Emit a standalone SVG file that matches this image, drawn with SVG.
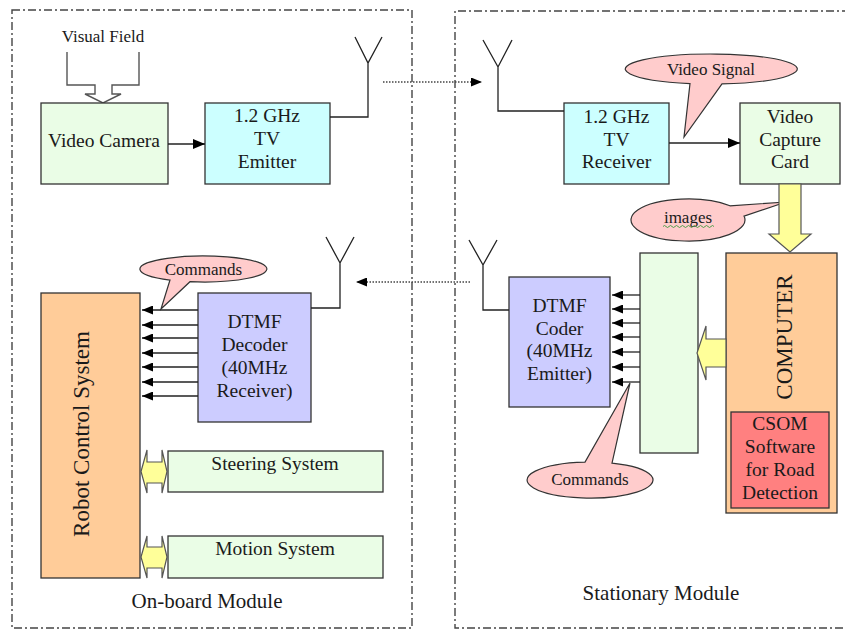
<svg xmlns="http://www.w3.org/2000/svg" width="845" height="630" viewBox="0 0 845 630">
  <style>
    text { font-family: "Liberation Serif", "Times New Roman", serif; fill: #1a1a1a; }
    .lbl { font-size: 19.5px; text-anchor: middle; }
    .small { font-size: 17px; text-anchor: middle; }
    .mod { font-size: 21px; text-anchor: middle; }
    .box { stroke: #333; stroke-width: 1.3; }
    .green { fill: #eafde6; }
    .cyan { fill: #ccffff; }
    .violet { fill: #ccccff; }
    .orange { fill: #ffcc99; }
    .red { fill: #ff8080; }
    .callout { fill: #ffcccc; stroke: #333; stroke-width: 1.2; }
    .yellow { fill: #ffff99; stroke: #555; stroke-width: 1.2; }
    .wire { fill: none; stroke: #222; stroke-width: 1.3; }
    .dotted { fill: none; stroke: #444; stroke-width: 1.3; stroke-dasharray: 1.5 1.5; }
    .frame { fill: none; stroke: #444; stroke-width: 1.4; stroke-dasharray: 8 3 2 3; }
  </style>
  <defs>
    <marker id="head" markerUnits="userSpaceOnUse" markerWidth="11" markerHeight="9" refX="11" refY="4.5" orient="auto">
      <path d="M0,0 L11,4.5 L0,9 z" fill="#000"/>
    </marker>
    <marker id="headBig" markerUnits="userSpaceOnUse" markerWidth="12" markerHeight="10" refX="12" refY="5" orient="auto">
      <path d="M0,0 L12,5 L0,10 z" fill="#000"/>
    </marker>
  </defs>

  <rect width="845" height="630" fill="#fff"/>

  <!-- module frames -->
  <g id="onboard-module">
    <rect class="frame" x="12" y="10" width="400" height="618"/>
    <text class="mod" x="207" y="608">On-board Module</text>
  </g>
  <g id="stationary-module">
    <path class="frame" d="M850,11 L455,11 L455,628 L850,628"/>
    <text class="mod" x="661" y="600">Stationary Module</text>
  </g>

  <!-- on-board nodes -->
  <g id="visual-field">
    <text class="small" x="103" y="42">Visual Field</text>
    <path d="M67,52 L67,85 L95,85 L95,94 L85,94 L103,103 L121,94 L112,94 L112,85 L139,85 L139,52" fill="none" stroke="#555" stroke-width="1.4"/>
  </g>
  <g id="video-camera">
    <rect class="box green" x="41" y="103" width="127" height="81"/>
    <text class="lbl" x="104" y="147">Video Camera</text>
  </g>
  <g id="tv-emitter">
    <rect class="box cyan" x="205" y="103" width="125" height="81"/>
    <text class="lbl" x="267" y="122">1.2 GHz</text>
    <text class="lbl" x="267" y="145">TV</text>
    <text class="lbl" x="267" y="168">Emitter</text>
  </g>
  <g id="robot-control">
    <rect class="box orange" x="41" y="293" width="99" height="285"/>
    <text x="89" y="434" font-size="23" text-anchor="middle" transform="rotate(-90 89 434)">Robot Control System</text>
  </g>
  <g id="dtmf-decoder">
    <rect class="box violet" x="198" y="293" width="113" height="129"/>
    <text class="lbl" x="254.5" y="328">DTMF</text>
    <text class="lbl" x="254.5" y="351">Decoder</text>
    <text class="lbl" x="254.5" y="374">(40MHz</text>
    <text class="lbl" x="254.5" y="397">Receiver)</text>
  </g>
  <g id="steering-system">
    <rect class="box green" x="168" y="451" width="215" height="41"/>
    <text class="lbl" x="275" y="470">Steering System</text>
  </g>
  <g id="motion-system">
    <rect class="box green" x="168" y="536" width="215" height="42"/>
    <text class="lbl" x="275" y="555">Motion System</text>
  </g>

  <!-- stationary nodes -->
  <g id="tv-receiver">
    <rect class="box cyan" x="564" y="103" width="105" height="81"/>
    <text class="lbl" x="616.5" y="123">1.2 GHz</text>
    <text class="lbl" x="616.5" y="146">TV</text>
    <text class="lbl" x="616.5" y="168">Receiver</text>
  </g>
  <g id="capture-card">
    <rect class="box green" x="740" y="103" width="100" height="81"/>
    <text class="lbl" x="790" y="123">Video</text>
    <text class="lbl" x="790" y="146">Capture</text>
    <text class="lbl" x="790" y="168">Card</text>
  </g>
  <g id="computer">
    <rect class="box orange" x="726" y="253" width="111" height="260"/>
    <text x="792" y="337" font-size="23" text-anchor="middle" transform="rotate(-90 792 337)">COMPUTER</text>
  </g>
  <g id="csom">
    <rect class="box red" x="731" y="412" width="98" height="96"/>
    <text class="lbl" x="780" y="430">CSOM</text>
    <text class="lbl" x="780" y="453">Software</text>
    <text class="lbl" x="780" y="476">for Road</text>
    <text class="lbl" x="780" y="499">Detection</text>
  </g>
  <g id="interface-board">
    <rect class="box green" x="640" y="253" width="58" height="200"/>
  </g>
  <g id="dtmf-coder">
    <rect class="box violet" x="509" y="277" width="101" height="130"/>
    <text class="lbl" x="559.5" y="312">DTMF</text>
    <text class="lbl" x="559.5" y="334.5">Coder</text>
    <text class="lbl" x="559.5" y="357">(40MHz</text>
    <text class="lbl" x="559.5" y="380">Emitter)</text>
  </g>

  <!-- callouts -->
  <g id="callout-video-signal">
    <path class="callout" d="M722,83.9 A86,15 0 1 0 690,83.55 L684,137 Z"/>
    <text class="small" x="711" y="75">Video Signal</text>
  </g>
  <g id="callout-images">
    <path class="callout" d="M744,216.1 A57,21 0 1 1 730,205.8 L786,202 Z"/>
    <text class="small" x="688" y="223">images</text>
    <path d="M663,226.5 q1.5,-2 3,0 t3,0 t3,0 t3,0 t3,0 t3,0 t3,0 t3,0 t3,0 t3,0 t3,0 t3,0 t3,0 t3,0 t3,0 t3,0 t3,0" fill="none" stroke="#3c9a3c" stroke-width="0.9"/>
  </g>
  <g id="callout-commands-onboard">
    <path class="callout" d="M190,281.7 A63.5,13 0 1 0 170,280.05 L161,309 Z"/>
    <text class="small" x="203.5" y="275">Commands</text>
  </g>
  <g id="callout-commands-stationary">
    <path class="callout" d="M585,462.06 A63,18 0 1 0 612,463.13 L630,383 Z"/>
    <text class="small" x="590" y="485">Commands</text>
  </g>

  <!-- connectors -->
  <g id="connectors">
    <!-- camera to emitter, receiver to capture card -->
    <line class="wire" x1="168" y1="144" x2="205" y2="144" marker-end="url(#headBig)"/>
    <line class="wire" x1="669" y1="143" x2="740" y2="143" marker-end="url(#headBig)"/>

    <!-- antennas -->
    <path class="wire" d="M330,117 L368,117 L368,63 M355,37 L368,63 L382,37"/>
    <path class="wire" d="M564,111 L498,111 L498,67 M483,40 L498,67 L512,40"/>
    <path class="wire" d="M311,308 L340,308 L340,263 M326,237 L340,263 L354,237"/>
    <path class="wire" d="M509,310 L483,310 L483,265 M469,240 L483,265 L497,240"/>

    <!-- radio links -->
    <line class="dotted" x1="383" y1="82" x2="482" y2="82" marker-end="url(#head)"/>
    <line class="dotted" x1="470" y1="282" x2="356" y2="282" marker-end="url(#head)"/>

    <!-- decoder to robot control: seven command lines -->
    <g class="wire" marker-end="url(#head)">
      <line x1="198" y1="310" x2="142" y2="310"/>
      <line x1="198" y1="325" x2="142" y2="325"/>
      <line x1="198" y1="338" x2="142" y2="338"/>
      <line x1="198" y1="353" x2="142" y2="353"/>
      <line x1="198" y1="367" x2="142" y2="367"/>
      <line x1="198" y1="382" x2="142" y2="382"/>
      <line x1="198" y1="396" x2="142" y2="396"/>
    </g>

    <!-- interface board to coder: seven command lines -->
    <g class="wire" marker-end="url(#head)">
      <line x1="640" y1="295" x2="612" y2="295"/>
      <line x1="640" y1="309" x2="612" y2="309"/>
      <line x1="640" y1="323" x2="612" y2="323"/>
      <line x1="640" y1="337" x2="612" y2="337"/>
      <line x1="640" y1="352" x2="612" y2="352"/>
      <line x1="640" y1="367" x2="612" y2="367"/>
      <line x1="640" y1="382" x2="612" y2="382"/>
    </g>

    <!-- block arrows -->
    <path class="yellow" d="M779,184 L801,184 L801,234 L811,234 L790,252 L769,234 L779,234 Z"/>
    <path class="yellow" d="M726,339 L706,339 L706,326 L697,353 L706,380 L706,367 L726,367 Z"/>
    <path class="yellow" d="M141,471.5 L147,450 L147,462 L162,462 L162,450 L167,471.5 L162,493 L162,483 L147,483 L147,493 Z"/>
    <path class="yellow" d="M141,557 L147,536 L147,547 L162,547 L162,536 L167,557 L162,578 L162,568 L147,568 L147,578 Z"/>
  </g>
</svg>
